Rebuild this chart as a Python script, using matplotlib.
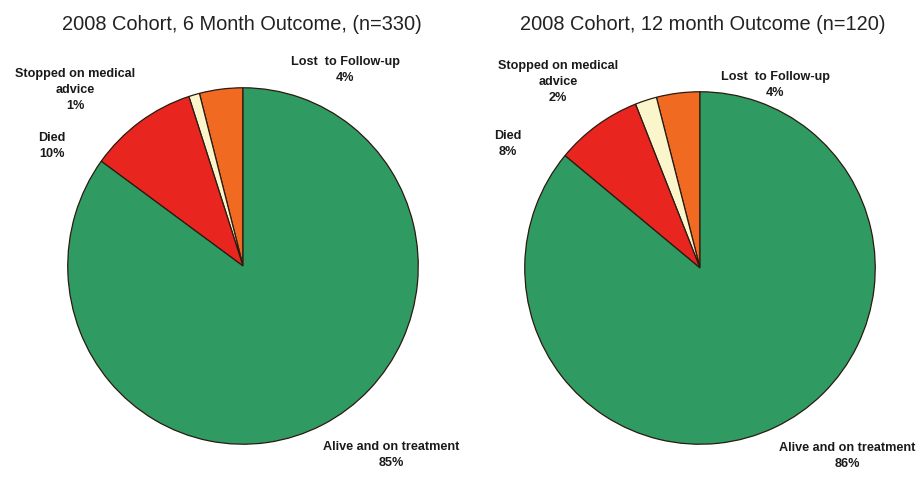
import matplotlib
matplotlib.use("Agg")
import matplotlib.pyplot as plt

W, H = 921, 485

# Data (order drawn counter-clockwise from 12 o'clock)
categories = ["Lost to Follow-up", "Stopped on medical advice", "Died", "Alive and on treatment"]
values_6m = [4, 1, 10, 85]
values_12m = [4, 2, 8, 86]
titles = ["2008 Cohort, 6 Month Outcome, (n=330)", "2008 Cohort, 12 month Outcome (n=120)"]
colors = ["#f06a22", "#fbf5cc", "#e8261f", "#2f9b62"]

plt.rcParams['font.family'] = ['Liberation Sans', 'DejaVu Sans']

fig = plt.figure(figsize=(W / 100, H / 100), dpi=100)
fig.patch.set_facecolor("white")


def add_pie(cx, cy, rx, ry, vals):
    ax = fig.add_axes([(cx - rx) / W, 1 - (cy + ry) / H, 2 * rx / W, 2 * ry / H])
    ax.pie(vals, colors=colors, startangle=90, counterclock=True,
           wedgeprops=dict(edgecolor="#2a1a10", linewidth=0.9))
    ax.set_xlim(-1.01, 1.01)
    ax.set_ylim(-1.01, 1.01)
    ax.set_aspect("auto")
    ax.axis("off")
    return ax


add_pie(243, 267, 177, 180, values_6m)
add_pie(700, 269, 177, 178, values_12m)


def ftext(x, y, s, **kw):
    fig.text(x / W, 1 - y / H, s, ha="center", va="center", **kw)


# titles
ftext(242, 25, titles[0], fontsize=14.4, color="#222222")
ftext(703, 25, titles[1], fontsize=14.4, color="#222222")

lab = dict(fontsize=9.1, fontweight="bold", color="#1a1a1a", linespacing=1.42)

# left pie labels
ftext(75, 90, f"Stopped on medical\nadvice\n{values_6m[1]}%", **lab)
ftext(52, 146, f"Died\n{values_6m[2]}%", **lab)
ftext(345, 70, f"Lost  to Follow-up\n{values_6m[0]}%", **lab)
ftext(391, 455, f"Alive and on treatment\n{values_6m[3]}%", **lab)

# right pie labels
ftext(558, 82, f"Stopped on medical\nadvice\n{values_12m[1]}%", **lab)
ftext(508, 144, f"Died\n{values_12m[2]}%", **lab)
ftext(775, 85, f"Lost  to Follow-up\n{values_12m[0]}%", **lab)
ftext(847, 456, f"Alive and on treatment\n{values_12m[3]}%", **lab)

fig.savefig("out.png", dpi=100, facecolor="white")
